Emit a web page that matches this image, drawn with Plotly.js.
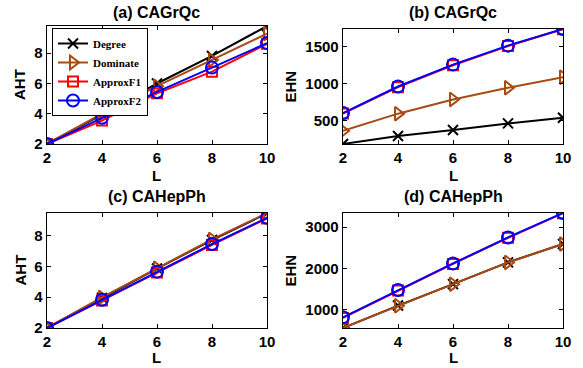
<!DOCTYPE html>
<html>
<head>
<meta charset="utf-8">
<script src="https://cdn.plot.ly/plotly-3.0.1.min.js"></script>
<style>
html, body { margin: 0; padding: 0; background: #fff; }
#chart { width: 583px; height: 368px; }
</style>
</head>
<body>
<div id="chart"></div>
<script>
// ---- data ----
const L = [2, 4, 6, 8, 10];
const seriesNames = ["Degree", "Dominate", "ApproxF1", "ApproxF2"];

// (a) CAGrQc - AHT
const aDegree   = [2, 3.95, 6.0, 7.82, 9.8];
const aDominate = [2, 4.0, 5.82, 7.56, 9.3];
const aApproxF1 = [2, 3.55, 5.35, 6.78, 8.62];
const aApproxF2 = [2, 3.73, 5.44, 7.05, 8.67];

// (b) CAGrQc - EHN
const bDegree   = [190, 298, 378, 467, 543];
const bDominate = [366, 598, 789, 946, 1089];
const bApproxF1 = [600, 955, 1250, 1508, 1735];
const bApproxF2 = [607, 963, 1258, 1513, 1737];

// (c) CAHepPh - AHT
const cDegree   = [2, 3.95, 5.85, 7.7, 9.42];
const cDominate = [2, 3.98, 5.87, 7.74, 9.45];
const cApproxF1 = [2, 3.78, 5.6, 7.38, 9.1];
const cApproxF2 = [2, 3.83, 5.65, 7.44, 9.14];

// (d) CAHepPh - EHN
const dDegree   = [556, 1100, 1620, 2148, 2595];
const dDominate = [560, 1097, 1619, 2146, 2592];
const dApproxF1 = [800, 1465, 2110, 2745, 3340];
const dApproxF2 = [816, 1478, 2121, 2752, 3345];

const panelTitles = ["(a) CAGrQc", "(b) CAGrQc", "(c) CAHepPh", "(d) CAHepPh"];
const yTitles = ["AHT", "EHN", "AHT", "EHN"];
const xTitle = "L";

// ---- styles ----
const colors = ["#000000", "#a84a14", "#ff0000", "#0000ff"];
const symbols = ["x-thin", "triangle-right-open", "square-open", "circle-open"];
const sizes = [10, 12, 10, 12];

const panels = [
  [aDegree, aDominate, aApproxF1, aApproxF2],
  [bDegree, bDominate, bApproxF1, bApproxF2],
  [cDegree, cDominate, cApproxF1, cApproxF2],
  [dDegree, dDominate, dApproxF1, dApproxF2]
];

const traces = [];
panels.forEach((series, p) => {
  const ax = p === 0 ? "" : String(p + 1);
  series.forEach((vals, s) => {
    traces.push({
      x: L, y: vals, type: "scatter", mode: "lines+markers",
      name: seriesNames[s],
      legendgroup: seriesNames[s],
      showlegend: p === 0,
      xaxis: "x" + ax, yaxis: "y" + ax,
      line: { color: colors[s], width: 2 },
      marker: { symbol: symbols[s], size: sizes[s], color: colors[s],
                line: { color: colors[s], width: 2 } }
    });
  });
});

const W = 583, H = 368;
const boxes = [
  { l: 47, r: 267, t: 26, b: 144 },
  { l: 343, r: 563, t: 29, b: 144 },
  { l: 47, r: 267, t: 213, b: 328 },
  { l: 343, r: 563, t: 213, b: 328 }
];
const xTitleY = [175, 175, 357, 357];
const yTitleX = [20, 290, 20, 290];
const titleY = [12.5, 13, 196, 196.5];

const tickFont = { family: "Liberation Sans, Arial, sans-serif", size: 15, color: "#000", weight: "bold" };
const layout = {
  width: W, height: H,
  margin: { l: 0, r: 0, t: 0, b: 0 },
  paper_bgcolor: "#fff", plot_bgcolor: "#fff",
  showlegend: true,
  legend: {
    x: 52 / W, y: 1 - 28 / H, xanchor: "left", yanchor: "top",
    bgcolor: "#fff", bordercolor: "#000", borderwidth: 1,
    font: { family: "Liberation Serif, Times New Roman, serif", size: 11, color: "#000", weight: "bold" },
    tracegroupgap: 0
  },
  annotations: []
};

panels.forEach((series, p) => {
  const ax = p === 0 ? "" : String(p + 1);
  const bx = boxes[p];
  const all = [].concat(...series);
  const ymin = Math.min(...all), ymax = Math.max(...all);
  const common = {
    showline: true, mirror: "ticks", linecolor: "#000", linewidth: 1.3,
    ticks: "inside", ticklen: 4, tickwidth: 1, tickcolor: "#000",
    showgrid: false, zeroline: false, tickfont: tickFont
  };
  layout["xaxis" + ax] = Object.assign({}, common, {
    domain: [bx.l / W, bx.r / W], range: [2, 10],
    tickvals: L, anchor: "y" + ax
  });
  layout["yaxis" + ax] = Object.assign({}, common, {
    domain: [1 - bx.b / H, 1 - bx.t / H], range: [ymin, ymax],
    anchor: "x" + ax,
    dtick: (p % 2 === 0) ? 2 : (p === 1 ? 500 : 1000)
  });
  const cx = (bx.l + bx.r) / 2;
  layout.annotations.push({
    text: panelTitles[p], xref: "paper", yref: "paper",
    x: cx / W, y: 1 - titleY[p] / H, xanchor: "center", yanchor: "middle",
    showarrow: false,
    font: { family: "Liberation Sans, Arial, sans-serif", size: 16, color: "#000", weight: "bold" }
  });
  layout.annotations.push({
    text: xTitle, xref: "paper", yref: "paper",
    x: cx / W, y: 1 - xTitleY[p] / H, xanchor: "center", yanchor: "middle",
    showarrow: false,
    font: { family: "Liberation Sans, Arial, sans-serif", size: 15, color: "#000", weight: "bold" }
  });
  layout.annotations.push({
    text: yTitles[p], xref: "paper", yref: "paper",
    x: yTitleX[p] / W, y: 1 - ((bx.t + bx.b) / 2) / H,
    xanchor: "center", yanchor: "middle", textangle: -90,
    showarrow: false,
    font: { family: "Liberation Sans, Arial, sans-serif", size: 15, color: "#000", weight: "bold" }
  });
});

Plotly.newPlot("chart", traces, layout, { displayModeBar: false, staticPlot: true });
</script>
</body>
</html>
